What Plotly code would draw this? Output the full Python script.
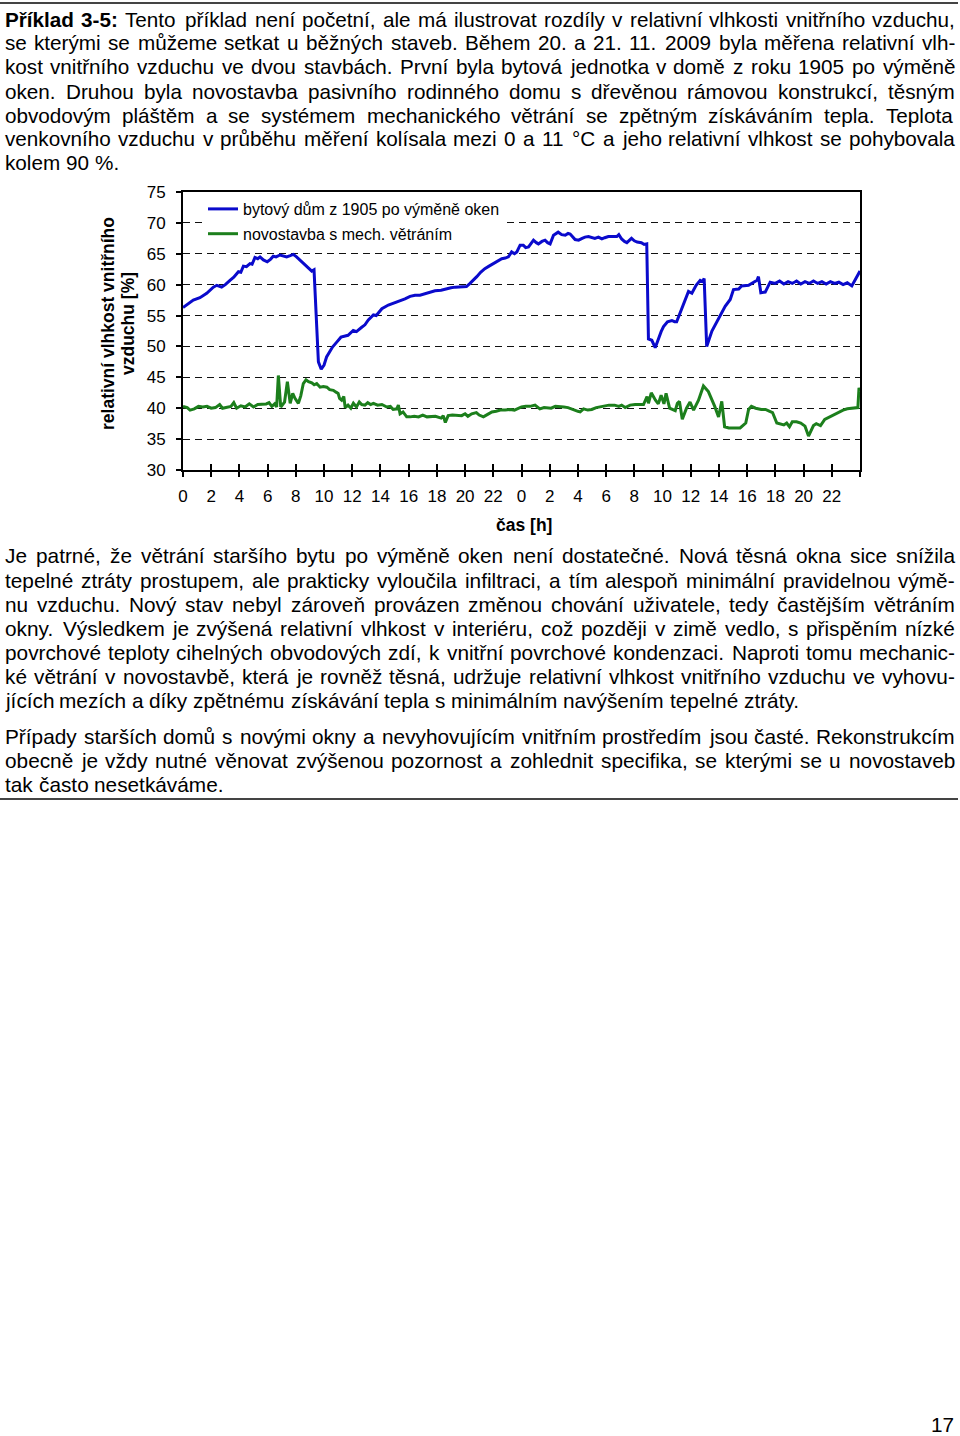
import unicodedata
import plotly.graph_objects as go

W, H = 960, 1436

# ---------------- data ----------------
blue_h = [0.0, 0.4, 0.73, 1.2, 1.68, 2.15, 2.4, 2.74, 3.0, 3.33, 3.6, 3.93, 4.1, 4.28, 4.5, 4.75, 4.9, 5.1,
          5.3, 5.46, 5.7, 5.97, 6.2, 6.4, 6.6, 6.88, 7.1, 7.35, 7.6, 7.82, 8.05, 8.3, 8.55, 8.77, 8.95, 9.13,
          9.29, 9.43, 9.6, 9.8, 10.0, 10.18, 10.6, 10.9, 11.2, 11.5, 11.7, 12.07, 12.3, 12.67, 12.9, 13.14,
          13.5, 13.7, 14.1, 14.56, 14.8, 15.16, 15.45, 15.74, 16.1, 16.45, 16.8, 17.16, 17.5, 17.87, 18.3,
          18.7, 19.0, 19.3, 19.88, 20.1, 20.35, 20.6, 20.83, 21.1, 21.4, 21.7, 22.0, 22.3, 22.6, 22.85,
          23.07, 23.3, 23.5, 23.67, 23.9, 24.13, 24.3, 24.5, 24.7, 24.85, 25.05, 25.2, 25.45, 25.67, 25.85,
          26.03, 26.27, 26.6, 26.85, 27.1, 27.3, 27.45, 27.8, 28.05, 28.3, 28.5, 28.75, 29.0, 29.2, 29.45,
          29.7, 29.9, 30.16, 30.5, 30.76, 30.9, 31.1, 31.3, 31.47, 31.8, 32.0, 32.2, 32.5, 32.7, 32.88,
          33.0, 33.24, 33.48, 33.7, 33.9, 34.07, 34.35, 34.66, 34.85, 35.0, 35.25, 35.5, 35.84, 36.08,
          36.38, 36.67, 36.85, 36.95, 37.13, 37.5, 37.97, 38.44, 38.8, 39.03, 39.4, 39.6, 40.1, 40.44,
          40.7, 40.8, 40.97, 41.28, 41.63, 41.99, 42.3, 42.6, 42.9, 43.2, 43.5, 43.8, 44.1, 44.4, 44.7,
          45.0, 45.3, 45.6, 45.9, 46.2, 46.5, 46.8, 47.1, 47.42, 48.0]
blue_v = [56.3, 57.0, 57.5, 57.9, 58.6, 59.6, 59.9, 59.6, 60.0, 60.7, 61.2, 62.1, 62.0, 63.0, 62.9, 63.4, 63.3, 64.4,
          64.2, 64.5, 64.0, 63.7, 64.1, 64.6, 64.5, 64.8, 64.7, 64.5, 64.7, 64.9, 64.5, 64.0, 63.4, 62.9, 62.6, 62.2,
          62.4, 56.4, 47.5, 46.3, 47.0, 48.3, 49.9, 50.7, 51.5, 51.7, 51.8, 52.6, 52.4, 53.1, 53.5, 54.3,
          55.1, 55.0, 56.1, 56.7, 56.9, 57.2, 57.4, 57.7, 58.1, 58.3, 58.3, 58.5, 58.7, 59.0, 59.1,
          59.4, 59.5, 59.6, 59.6, 59.7, 60.2, 60.7, 61.3, 62.0, 62.6, 63.0, 63.4, 63.7, 64.2, 64.3,
          64.5, 65.3, 65.0, 65.3, 66.4, 66.4, 66.0, 66.1, 66.8, 67.2, 66.8, 66.6, 67.0, 67.2, 66.8,
          66.6, 68.0, 68.5, 68.1, 68.0, 68.3, 68.2, 67.3, 67.2, 67.5, 67.7, 67.8, 67.6, 67.5, 67.7,
          67.4, 67.6, 67.8, 67.8, 67.8, 68.1, 67.4, 67.0, 66.8, 67.5, 67.1, 66.9, 66.8, 66.5, 66.6,
          51.2, 51.0, 49.8, 51.3, 52.4, 53.2, 54.0, 54.2, 54.0, 54.0, 55.4, 57.1, 58.9, 58.6,
          59.9, 60.7, 60.5, 61.0, 50.0, 52.5, 54.6, 56.5, 57.6, 59.2, 59.3, 59.8, 59.9, 60.3,
          60.7, 61.3, 58.7, 58.8, 60.4, 60.2, 60.6, 60.1, 60.5, 60.2, 60.6, 60.1, 60.5, 60.2, 60.6,
          60.2, 60.5, 60.1, 60.5, 60.2, 60.4, 60.0, 60.3, 59.8, 62.2]

green_h = [0.0, 0.3, 0.5, 0.8, 1.1, 1.4, 1.7, 2.0, 2.3, 2.6, 2.8, 3.1, 3.4, 3.6, 3.8, 4.1, 4.4, 4.7, 5.0, 5.3,
           5.6, 5.9, 6.1, 6.3, 6.5, 6.64, 6.76, 6.93, 7.2, 7.4, 7.6, 7.78, 7.94, 8.18, 8.35, 8.53, 8.72, 8.9,
           9.13, 9.3, 9.48, 9.72, 9.95, 10.2, 10.4, 10.66, 10.85, 11.0, 11.1, 11.25, 11.4, 11.5, 11.7, 11.9,
           12.08, 12.3, 12.5, 12.67, 12.9, 13.1, 13.3, 13.5, 13.8, 14.1, 14.45, 14.7, 14.9, 15.16, 15.27,
           15.39, 15.6, 15.86, 16.1, 16.4, 16.7, 17.0, 17.3, 17.6, 17.9, 18.3, 18.45, 18.6, 18.8, 19.1,
           19.4, 19.76, 20.0, 20.2, 20.47, 20.8, 21.0, 21.3, 21.6, 21.9, 22.2, 22.5, 22.84, 23.2, 23.5,
           23.8, 24.0, 24.3, 24.6, 24.96, 25.1, 25.3, 25.6, 25.9, 26.1, 26.4, 26.74, 27.0, 27.3, 27.6,
           28.0, 28.16, 28.4, 28.7, 28.98, 29.3, 29.6, 29.9, 30.2, 30.6, 30.9, 31.1, 31.35, 31.7, 32.06,
           32.65, 32.9, 33.0, 33.2, 33.5, 33.7, 33.9, 34.1, 34.25, 34.5, 34.9, 35.05, 35.2, 35.4, 35.7,
           35.95, 36.2, 36.55, 36.9, 37.25, 37.7, 37.97, 38.2, 38.4, 38.7, 39.5, 39.9, 40.1, 40.3, 40.6,
           41.0, 41.3, 41.6, 41.8, 42.1, 42.4, 42.6, 42.8, 43.0, 43.2, 43.5, 43.8, 44.1, 44.35, 44.7,
           44.9, 45.2, 45.5, 45.76, 46.1, 46.4, 46.8, 47.1, 47.6, 47.85, 47.93, 48.0]
green_v = [40.3, 40.1, 39.7, 39.9, 40.3, 40.2, 40.3, 40.0, 40.1, 40.6, 40.0, 40.2, 40.3, 40.9, 40.0, 40.4, 40.2, 40.7, 40.2, 40.6,
           40.7, 40.7, 40.9, 40.3, 40.7, 40.2, 45.3, 40.2, 41.0, 44.3, 40.8, 42.4, 41.6, 40.8, 42.0, 44.0, 44.6, 44.3,
           44.1, 43.8, 44.0, 43.4, 43.5, 43.4, 43.0, 42.9, 42.6, 42.4, 41.6, 41.3, 41.9, 40.1, 40.5, 40.0,
           40.8, 40.2, 41.0, 40.6, 40.5, 40.9, 40.6, 40.8, 40.5, 40.6, 40.2, 40.3, 39.8, 39.9, 40.5,
           39.1, 39.4, 38.6, 38.6, 38.7, 38.6, 38.9, 38.6, 38.6, 38.7, 38.4, 38.8, 37.7, 38.8, 38.9,
           38.8, 38.8, 39.1, 38.7, 39.1, 39.3, 38.9, 38.6, 39.0, 39.4, 39.5, 39.7, 39.7, 39.8, 39.7,
           40.0, 40.2, 40.3, 40.3, 40.5, 40.3, 39.9, 40.1, 40.0, 40.0, 40.3, 40.3, 40.2, 40.1, 39.8,
           39.5, 39.4, 39.9, 39.7, 39.8, 40.1, 40.2, 40.4, 40.5, 40.5, 40.3, 40.5, 40.1, 40.5, 40.6,
           40.6, 41.9, 40.8, 42.5, 41.3, 40.7, 42.1, 40.7, 42.4, 40.0, 39.6, 40.8, 41.1, 38.2, 40.0,
           41.0, 39.7, 41.3, 43.6, 42.7, 40.3, 38.6, 41.1, 37.0, 36.8, 36.8, 37.6, 39.8, 40.3, 40.0,
           39.8, 39.8, 39.5, 39.3, 37.6, 37.4, 37.3, 37.6, 37.0, 37.8, 37.8, 37.6, 37.1, 35.5, 37.2,
           37.5, 37.2, 38.2, 38.5, 39.0, 39.3, 39.7, 39.9, 40.1, 40.1, 43.3, 42.7]

series_names = ["bytový dům z 1905 po výměně oken", "novostavba s mech. větráním"]
x_tick_vals = [0, 2, 4, 6, 8, 10, 12, 14, 16, 18, 20, 22, 24, 26, 28, 30, 32, 34, 36, 38, 40, 42, 44, 46, 48]
x_tick_text = ["0", "2", "4", "6", "8", "10", "12", "14", "16", "18", "20", "22",
               "0", "2", "4", "6", "8", "10", "12", "14", "16", "18", "20", "22", ""]
y_tick_vals = [30, 35, 40, 45, 50, 55, 60, 65, 70, 75]
x_title = "čas [h]"
y_title_lines = ["relativní vlhkost vnitřního", "vzduchu [%]"]

top_lines = [
    "Příklad 3-5: Tento příklad není početní, ale má ilustrovat rozdíly v relativní vlhkosti vnitřního vzduchu,",
    "se kterými se můžeme setkat u běžných staveb. Během 20. a 21. 11. 2009 byla měřena relativní vlh-",
    "kost vnitřního vzduchu ve dvou stavbách. První byla bytová jednotka v domě z roku 1905 po výměně",
    "oken. Druhou byla novostavba pasivního rodinného domu s dřevěnou rámovou konstrukcí, těsným",
    "obvodovým pláštěm a se systémem mechanického větrání se zpětným získáváním tepla. Teplota",
    "venkovního vzduchu v průběhu měření kolísala mezi 0 a 11 °C a jeho relativní vlhkost se pohybovala",
    "kolem 90 %.",
]
bottom_lines = [
    "Je patrné, že větrání staršího bytu po výměně oken není dostatečné. Nová těsná okna sice snížila",
    "tepelné ztráty prostupem, ale prakticky vyloučila infiltraci, a tím alespoň minimální pravidelnou výmě-",
    "nu vzduchu. Nový stav nebyl zároveň provázen změnou chování uživatele, tedy častějším větráním",
    "okny. Výsledkem je zvýšená relativní vlhkost v interiéru, což později v zimě vedlo, s přispěním nízké",
    "povrchové teploty cihelných obvodových zdí, k vnitřní povrchové kondenzaci. Naproti tomu mechanic-",
    "ké větrání v novostavbě, která je rovněž těsná, udržuje relativní vlhkost vnitřního vzduchu ve vyhovu-",
    "jících mezích a díky zpětnému získávání tepla s minimálním navýšením tepelné ztráty.",
    "Případy starších domů s novými okny a nevyhovujícím vnitřním prostředím jsou časté. Rekonstrukcím",
    "obecně je vždy nutné věnovat zvýšenou pozornost a zohlednit specifika, se kterými se u novostaveb",
    "tak často nesetkáváme.",
]
page_number = "17"

# ---------------- styling ----------------
BLUE = "#0A0ACC"
GREEN = "#1C7F1C"
SANS = "Liberation Sans, Arial, sans-serif"


def px_x(p):
    return p / W


def px_y(p):
    return 1 - p / H


fig = go.Figure()
fig.add_trace(go.Scatter(x=blue_h, y=blue_v, mode="lines", name=series_names[0],
                         line=dict(color=BLUE, width=3), legendgroup="a"))
fig.add_trace(go.Scatter(x=green_h, y=green_v, mode="lines", name=series_names[1],
                         line=dict(color=GREEN, width=3), legendgroup="b"))
fig.add_trace(go.Scatter(x=[None], y=[None], xaxis="x2", showlegend=False, hoverinfo="skip"))

tickfont = dict(family=SANS, size=17, color="#000")
fig.update_layout(
    width=W, height=H,
    margin=dict(l=0, r=0, t=0, b=0, autoexpand=False),
    paper_bgcolor="white", plot_bgcolor="white",
    xaxis=dict(domain=[px_x(183), px_x(860)], range=[0, 48], tickmode="array",
               tickvals=x_tick_vals, ticktext=x_tick_text, ticks="outside", ticklen=5,
               tickwidth=1.5, tickcolor="#000", showline=True, linecolor="#000", linewidth=1.8,
               mirror=True, showgrid=False, zeroline=False, tickfont=tickfont,
               ticklabelstandoff=5, automargin=False),
    xaxis2=dict(domain=[px_x(183), px_x(860)], range=[0, 48], overlaying="x", anchor="y",
                side="bottom", tickmode="array", tickvals=x_tick_vals, ticks="inside", ticklen=6,
                tickwidth=1.5, tickcolor="#000", showticklabels=False, showgrid=False,
                zeroline=False, showline=False, automargin=False),
    yaxis=dict(domain=[px_y(470), px_y(192)], range=[30, 75], tickmode="array",
               tickvals=y_tick_vals, ticks="outside", ticklen=5, tickwidth=1.5, tickcolor="#000",
               showline=True, linecolor="#000", linewidth=1.8, mirror=True, showgrid=True,
               gridcolor="#111", gridwidth=1.4, griddash="7px,5px", zeroline=False,
               tickfont=tickfont, ticklabelstandoff=7, automargin=False),
    showlegend=True,
    legend=dict(x=px_x(203), y=px_y(192), xanchor="left", yanchor="top", bgcolor="white",
                borderwidth=0, font=dict(family=SANS, size=16, color="#000"),
                tracegroupgap=1, itemwidth=30),
)

# ---------------- text layout helpers (Arial / Liberation Sans advance widths) ----------------
HELV = {' ': 278, '!': 278, '"': 355, '#': 556, '$': 556, '%': 889, '&': 667, "'": 191, '(': 333, ')': 333,
        '*': 389, '+': 584, ',': 278, '-': 333, '.': 278, '/': 278, ':': 278, ';': 278, '?': 556,
        '[': 278, ']': 278, '°': 400, 'í': 278,
        'A': 667, 'B': 667, 'C': 722, 'D': 722, 'E': 667, 'F': 611, 'G': 778, 'H': 722, 'I': 278, 'J': 500,
        'K': 667, 'L': 556, 'M': 833, 'N': 722, 'O': 778, 'P': 667, 'Q': 778, 'R': 722, 'S': 667, 'T': 611,
        'U': 722, 'V': 667, 'W': 944, 'X': 667, 'Y': 667, 'Z': 611,
        'a': 556, 'b': 556, 'c': 500, 'd': 556, 'e': 556, 'f': 278, 'g': 556, 'h': 556, 'i': 222, 'j': 222,
        'k': 500, 'l': 222, 'm': 833, 'n': 556, 'o': 556, 'p': 556, 'q': 556, 'r': 333, 's': 500, 't': 278,
        'u': 556, 'v': 500, 'w': 722, 'x': 500, 'y': 500, 'z': 500}
HELV_B = {' ': 278, '-': 333, ':': 333, 'P': 667, 'r': 389, 'i': 278, 'í': 278, 'k': 556, 'l': 278,
          'a': 556, 'd': 611}


def char_units(ch, bold):
    tbl = HELV_B if bold else HELV
    if ch in tbl:
        return tbl[ch]
    base = unicodedata.normalize("NFD", ch)[0]
    if base.isdigit():
        return 556
    return tbl.get(base, 600 if bold else 556)


def text_units(s, bold=False):
    return sum(char_units(ch, bold) for ch in s) / 1000.0


annotations = []


def place_line(line, y_c, size, justify, bold_words=0, x0=5.0, x1=955.0):
    words = line.split(" ")
    flags = [i < bold_words for i in range(len(words))]
    widths = [text_units(w, b) * size for w, b in zip(words, flags)]
    space = text_units(" ") * size
    natural = sum(widths) + space * (len(words) - 1)
    gap = space
    if justify and len(words) > 1:
        gap = space + (x1 - x0 - natural) / (len(words) - 1)
    x = x0
    for w, b, wd in zip(words, flags, widths):
        annotations.append(dict(x=px_x(x), y=px_y(y_c), xref="paper", yref="paper", xanchor="left",
                                yanchor="middle", showarrow=False, borderpad=0, borderwidth=0,
                                text=f"<b>{w}</b>" if b else w,
                                font=dict(family=SANS, size=size, color="#000")))
        x += wd + gap


def fit_size(lines, wanted, slack, bold_first=0):
    best = wanted
    for k, ln in enumerate(lines):
        ws = ln.split(" ")
        u = sum(text_units(w, (k == 0 and i < bold_first)) for i, w in enumerate(ws))
        u += text_units(" ") * (len(ws) - 1)
        best = min(best, 950.0 * slack / u)
    return best


top_size = fit_size(top_lines[:-1], 20.7, 0.998, bold_first=2)
top_y = [19, 43, 67, 91, 115, 139, 163]
for i, ln in enumerate(top_lines):
    place_line(ln, top_y[i], top_size, justify=(i < len(top_lines) - 1),
               bold_words=2 if i == 0 else 0)

bot_just = [0, 1, 2, 3, 4, 5, 7, 8]
bot_size = fit_size([bottom_lines[i] for i in bot_just], 20.8, 0.998)
bot_y = [556, 580, 604, 628, 652, 676, 700, 736, 760, 784]
for i, ln in enumerate(bottom_lines):
    place_line(ln, bot_y[i], bot_size, justify=(i in bot_just))

# axis titles
annotations.append(dict(x=px_x(524), y=px_y(525), xref="paper", yref="paper", showarrow=False,
                        xanchor="center", yanchor="middle",
                        text=f"<b>{x_title}</b>", font=dict(family=SANS, size=17.5, color="#000")))
for xc, t in zip([108, 128], y_title_lines):
    annotations.append(dict(x=px_x(xc), y=px_y(324), xref="paper", yref="paper", showarrow=False,
                            xanchor="center", yanchor="middle", textangle=-90, text=f"<b>{t}</b>",
                            font=dict(family=SANS, size=17.5, color="#000")))
# page number
annotations.append(dict(x=px_x(942), y=px_y(1424), xref="paper", yref="paper", showarrow=False,
                        xanchor="center", yanchor="middle", borderpad=0,
                        text=page_number, font=dict(family=SANS, size=20.7, color="#000")))

fig.update_layout(annotations=annotations)

# page rules
fig.add_shape(type="line", xref="paper", yref="paper", x0=0, x1=px_x(958), y0=px_y(3), y1=px_y(3),
              line=dict(color="#444", width=2))
fig.add_shape(type="line", xref="paper", yref="paper", x0=0, x1=px_x(958), y0=px_y(799), y1=px_y(799),
              line=dict(color="#444", width=2))

fig.write_html("out.html")
